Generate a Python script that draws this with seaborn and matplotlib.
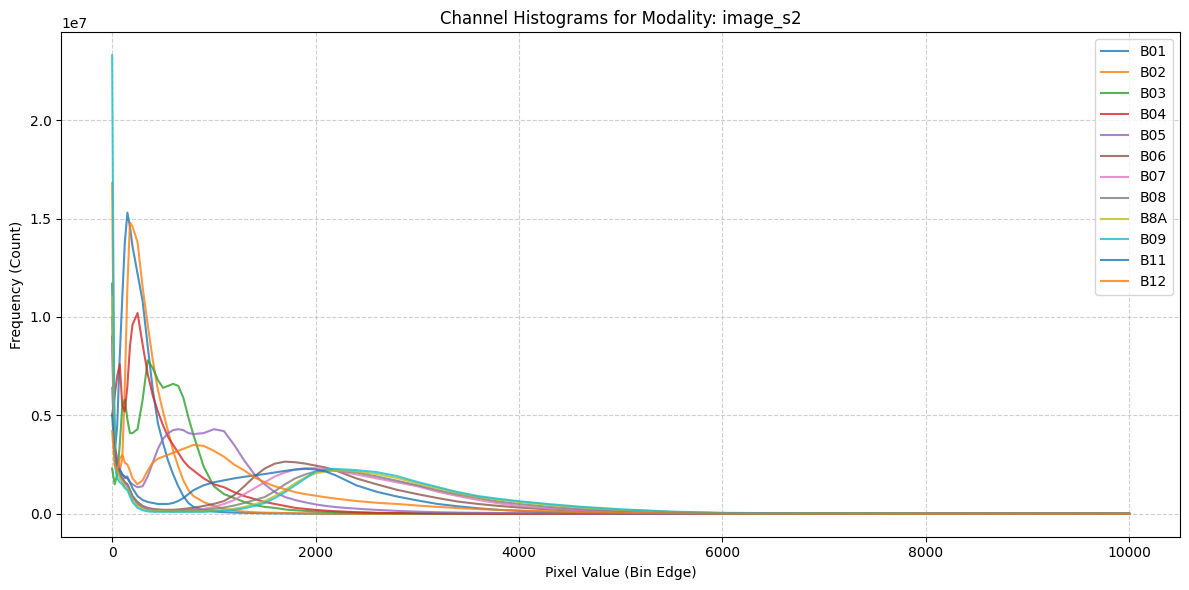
import numpy as np
import pandas as pd
import seaborn as sns
import matplotlib.pyplot as plt

# Bin edges (pixel values) shared by every band
bin_edges = [0, 25, 50, 75, 100, 125, 150, 175, 200, 250, 300, 350, 400, 450, 500,
             550, 600, 650, 700, 750, 800, 900, 1000, 1100, 1200, 1300, 1400, 1500,
             1600, 1700, 1800, 1900, 2000, 2100, 2200, 2400, 2600, 2800, 3000, 3200,
             3400, 3600, 3800, 4000, 4300, 4600, 5000, 5500, 6000, 7000, 8000, 9000, 10000]

# Counts per bin, in millions
B01 = [11.7, 3.0, 4.5, 8.0, 11.0, 13.8, 15.3, 14.6, 13.6, 12.2, 10.8, 8.5, 6.3, 4.6, 3.6,
       2.7, 2.0, 1.4, 0.9, 0.55, 0.35, 0.2, 0.12, 0.08, 0.06, 0.05, 0.04, 0.03,
       0.02, 0.02, 0.01, 0.01, 0.01, 0.0, 0.0, 0.0, 0.0, 0.0, 0.0, 0.0,
       0.0, 0.0, 0.0, 0.0, 0.0, 0.0, 0.0, 0.0, 0.0, 0.0, 0.0, 0.0, 0.0]
B02 = [16.8, 3.0, 2.0, 2.2, 2.8, 6.5, 11.5, 14.8, 14.6, 13.8, 11.5, 9.6, 7.8, 6.3, 5.2,
       4.2, 3.2, 2.4, 1.7, 1.2, 0.9, 0.6, 0.4, 0.25, 0.16, 0.11, 0.08, 0.06,
       0.05, 0.04, 0.03, 0.02, 0.02, 0.01, 0.01, 0.0, 0.0, 0.0, 0.0, 0.0,
       0.0, 0.0, 0.0, 0.0, 0.0, 0.0, 0.0, 0.0, 0.0, 0.0, 0.0, 0.0, 0.0]
B03 = [2.3, 1.5, 2.0, 3.5, 5.5, 5.8, 4.8, 4.1, 4.1, 4.3, 5.8, 7.8, 7.4, 6.8, 6.4,
       6.5, 6.6, 6.5, 5.9, 4.9, 4.0, 2.4, 1.4, 1.0, 0.8, 0.6, 0.45, 0.35,
       0.3, 0.22, 0.18, 0.15, 0.12, 0.1, 0.08, 0.06, 0.04, 0.03, 0.02, 0.01,
       0.01, 0.0, 0.0, 0.0, 0.0, 0.0, 0.0, 0.0, 0.0, 0.0, 0.0, 0.0, 0.0]
B04 = [5.0, 6.0, 7.0, 7.6, 5.5, 5.2, 6.5, 8.5, 9.6, 10.2, 8.6, 7.1, 6.0, 5.2, 4.5,
       3.9, 3.5, 3.1, 2.7, 2.4, 2.2, 1.8, 1.5, 1.35, 1.1, 0.9, 0.75, 0.6,
       0.5, 0.4, 0.3, 0.25, 0.2, 0.16, 0.13, 0.08, 0.05, 0.04, 0.03, 0.02,
       0.01, 0.01, 0.0, 0.0, 0.0, 0.0, 0.0, 0.0, 0.0, 0.0, 0.0, 0.0, 0.0]
B05 = [6.4, 3.5, 2.8, 2.3, 2.0, 1.8, 1.9, 1.6, 1.5, 1.35, 1.4, 1.9, 2.6, 3.3, 3.8,
       4.1, 4.25, 4.3, 4.25, 4.1, 4.05, 4.1, 4.3, 4.2, 3.5, 2.7, 2.0, 1.5,
       1.1, 0.85, 0.7, 0.58, 0.48, 0.4, 0.34, 0.26, 0.2, 0.15, 0.11, 0.08,
       0.06, 0.05, 0.04, 0.03, 0.02, 0.01, 0.01, 0.0, 0.0, 0.0, 0.0, 0.0, 0.0]
B06 = [9.0, 3.5, 2.5, 2.0, 1.8, 1.6, 1.5, 1.2, 0.9, 0.6, 0.4, 0.3, 0.25, 0.22, 0.2,
       0.2, 0.2, 0.22, 0.25, 0.28, 0.3, 0.4, 0.5, 0.65, 0.95, 1.4, 1.9, 2.3,
       2.55, 2.65, 2.62, 2.55, 2.45, 2.35, 2.2, 1.8, 1.5, 1.22, 1.0, 0.8,
       0.62, 0.5, 0.4, 0.32, 0.22, 0.14, 0.08, 0.04, 0.02, 0.005, 0.0, 0.0, 0.0]
B07 = [8.5, 3.0, 2.3, 1.9, 1.7, 1.5, 1.4, 1.1, 0.8, 0.5, 0.35, 0.25, 0.2, 0.2, 0.2,
       0.2, 0.2, 0.2, 0.2, 0.2, 0.2, 0.25, 0.35, 0.5, 0.7, 1.0, 1.3, 1.6,
       1.9, 2.1, 2.25, 2.32, 2.32, 2.28, 2.2, 2.0, 1.8, 1.6, 1.4, 1.12,
       0.9, 0.7, 0.53, 0.4, 0.27, 0.18, 0.1, 0.05, 0.02, 0.005, 0.0, 0.0, 0.0]
B08 = [10.0, 3.2, 2.4, 2.0, 1.8, 1.6, 1.5, 1.2, 0.9, 0.5, 0.35, 0.25, 0.2, 0.18, 0.18,
       0.18, 0.18, 0.18, 0.18, 0.18, 0.18, 0.2, 0.25, 0.32, 0.42, 0.55, 0.7, 0.85,
       1.15, 1.5, 1.8, 2.0, 2.15, 2.2, 2.2, 2.1, 1.9, 1.68, 1.45, 1.2,
       0.98, 0.8, 0.62, 0.5, 0.35, 0.24, 0.14, 0.07, 0.03, 0.008, 0.0, 0.0, 0.0]
B8A = [11.0, 3.0, 2.2, 1.8, 1.6, 1.4, 1.3, 1.0, 0.7, 0.4, 0.25, 0.18, 0.15, 0.14, 0.13,
       0.13, 0.12, 0.12, 0.12, 0.12, 0.12, 0.13, 0.16, 0.2, 0.26, 0.35, 0.48, 0.65,
       0.9, 1.2, 1.55, 1.85, 2.05, 2.15, 2.2, 2.15, 2.02, 1.82, 1.55, 1.3,
       1.06, 0.86, 0.72, 0.6, 0.45, 0.33, 0.2, 0.1, 0.04, 0.01, 0.0, 0.0, 0.0]
B09 = [23.3, 2.5, 1.8, 1.6, 1.5, 1.3, 1.2, 0.9, 0.6, 0.3, 0.18, 0.12, 0.1, 0.1, 0.1,
       0.1, 0.1, 0.1, 0.1, 0.1, 0.1, 0.1, 0.12, 0.15, 0.2, 0.28, 0.4, 0.55,
       0.8, 1.1, 1.45, 1.8, 2.15, 2.25, 2.28, 2.22, 2.12, 1.92, 1.62, 1.36,
       1.1, 0.9, 0.76, 0.64, 0.49, 0.36, 0.23, 0.11, 0.05, 0.012, 0.0, 0.0, 0.0]
B11 = [5.0, 3.0, 2.4, 2.2, 2.0, 1.9, 1.8, 1.6, 1.3, 0.9, 0.7, 0.6, 0.55, 0.5, 0.5,
       0.5, 0.55, 0.65, 0.8, 1.0, 1.2, 1.45, 1.6, 1.7, 1.8, 1.88, 1.95, 2.02,
       2.1, 2.18, 2.25, 2.28, 2.26, 2.15, 1.95, 1.45, 1.12, 0.88, 0.68, 0.5,
       0.38, 0.28, 0.2, 0.15, 0.1, 0.06, 0.03, 0.015, 0.008, 0.003, 0.0, 0.0, 0.0]
B12 = [4.2, 2.5, 2.2, 2.8, 3.0, 2.6, 2.5, 2.2, 1.8, 1.5, 1.7, 2.2, 2.6, 2.8, 2.9,
       3.0, 3.1, 3.2, 3.3, 3.4, 3.5, 3.45, 3.2, 2.9, 2.5, 2.2, 1.85, 1.6,
       1.4, 1.25, 1.1, 1.0, 0.92, 0.84, 0.77, 0.65, 0.56, 0.5, 0.42, 0.35,
       0.29, 0.24, 0.2, 0.17, 0.12, 0.08, 0.05, 0.025, 0.012, 0.005, 0.0, 0.0, 0.0]

bands = ["B01", "B02", "B03", "B04", "B05", "B06", "B07", "B08", "B8A", "B09", "B11", "B12"]
counts = [B01, B02, B03, B04, B05, B06, B07, B08, B8A, B09, B11, B12]


def main():
    plt.figure(figsize=(12, 6), dpi=100)
    ax = plt.gca()
    colors = plt.rcParams["axes.prop_cycle"].by_key()["color"]

    # One line per band
    for i, (band, vals) in enumerate(zip(bands, counts)):
        df = pd.DataFrame({"edge": bin_edges, "count": np.array(vals) * 1e6})
        sns.lineplot(data=df, x="edge", y="count", ax=ax, label=band,
                     color=colors[i % len(colors)], alpha=0.8, linewidth=1.5)

    plt.title("Channel Histograms for Modality: image_s2")
    plt.xlabel("Pixel Value (Bin Edge)")
    plt.ylabel("Frequency (Count)")
    plt.grid(True, linestyle="--", alpha=0.6)
    plt.legend(loc="upper right")
    plt.tight_layout()
    plt.savefig("out.png", dpi=100, bbox_inches="tight")


if __name__ == "__main__":

    main()
